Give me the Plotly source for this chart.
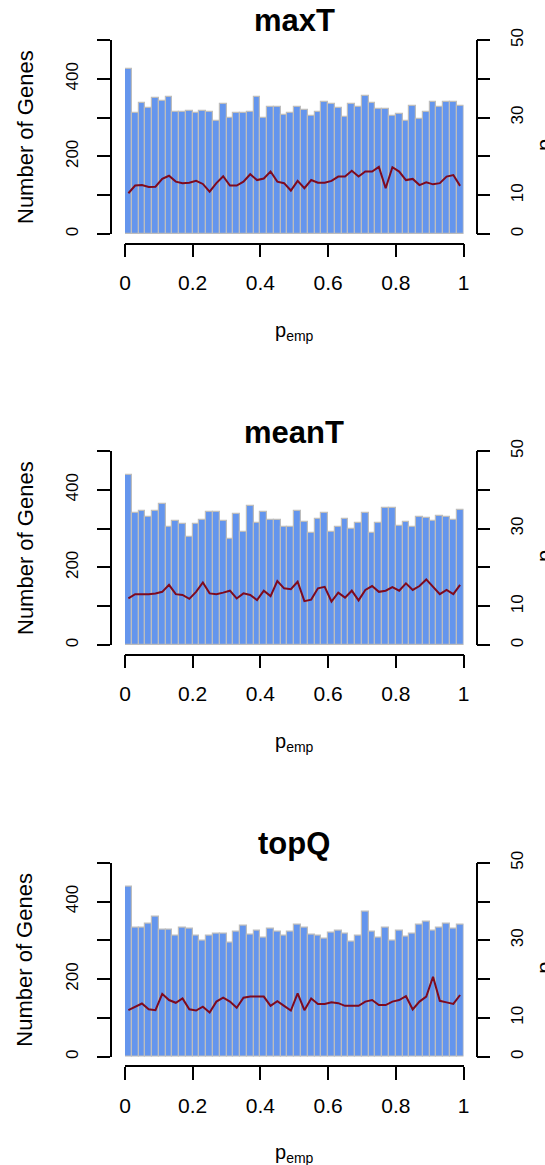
import numpy as np
import plotly.graph_objects as go

# ---------------- data ----------------
bin_edges = np.linspace(0, 1, 51)
x_tick_vals = [0, 0.2, 0.4, 0.6, 0.8, 1]
x_tick_text = ["0", "0.2", "0.4", "0.6", "0.8", "1"]
left_tick_vals = [0, 200, 400]
left_minor_vals = [100, 300, 500]
right_tick_vals = [0, 10, 30, 50]
right_minor_vals = [20, 40]

panel_titles = ["maxT", "meanT", "topQ"]

maxT_counts = [424, 311, 337, 326, 350, 344, 352, 315, 315, 317, 313, 317, 315, 290, 335, 298, 313, 313, 315, 354,
               298, 328, 327, 307, 313, 328, 320, 305, 315, 341, 335, 326, 302, 335, 328, 356, 337, 322, 322, 304,
               309, 292, 330, 296, 315, 339, 328, 341, 341, 330]
maxT_line = [10.5, 12.5, 12.6, 12.1, 12.2, 14.2, 15.0, 13.5, 13.1, 13.2, 13.7, 12.9, 10.9, 13.1, 14.9, 12.5, 12.5,
             13.5, 15.4, 13.9, 14.3, 16.1, 13.5, 13.1, 11.2, 13.7, 11.8, 13.9, 13.2, 13.2, 13.7, 14.8, 14.8, 16.3,
             14.8, 16.1, 16.1, 17.3, 11.8, 17.2, 16.1, 13.9, 14.2, 12.6, 13.3, 12.8, 13.1, 14.8, 15.2, 12.4]

meanT_counts = [438, 339, 345, 331, 346, 363, 305, 320, 312, 278, 312, 322, 342, 344, 320, 272, 337, 290, 357, 314,
                342, 322, 322, 305, 304, 345, 316, 288, 326, 339, 290, 305, 326, 298, 315, 339, 289, 315, 352, 352,
                308, 316, 305, 329, 328, 320, 333, 331, 322, 348]
meanT_line = [12.0, 13.1, 13.1, 13.1, 13.3, 13.7, 15.5, 13.1, 12.9, 11.9, 13.7, 16.1, 13.3, 13.1, 13.5, 14.0, 12.0,
              13.3, 12.9, 11.6, 14.0, 12.6, 16.5, 14.6, 14.4, 16.3, 11.3, 11.7, 14.6, 15.0, 11.2, 13.5, 12.2, 14.0,
              11.5, 14.2, 15.2, 13.7, 14.0, 14.9, 14.0, 15.9, 14.2, 15.2, 16.9, 15.0, 13.1, 14.2, 13.1, 15.5]

topQ_counts = [438, 333, 333, 344, 361, 328, 328, 311, 332, 329, 311, 298, 311, 316, 318, 295, 322, 337, 314, 326,
               308, 329, 322, 311, 322, 339, 333, 314, 311, 305, 320, 324, 316, 296, 311, 374, 322, 308, 333, 299,
               324, 309, 316, 339, 348, 324, 333, 344, 329, 341]
topQ_line = [12.0, 12.9, 13.7, 12.2, 12.0, 16.2, 14.6, 13.9, 15.0, 12.2, 11.9, 12.9, 11.4, 14.2, 15.2, 14.2, 12.6,
             15.2, 15.5, 15.5, 15.5, 13.1, 14.3, 13.1, 11.9, 16.3, 12.0, 15.0, 13.6, 13.6, 14.0, 13.8, 13.1, 13.1,
             13.1, 14.2, 14.6, 13.3, 13.3, 14.2, 14.6, 15.6, 12.2, 14.2, 15.5, 20.6, 14.4, 14.0, 13.6, 15.9]

all_counts = [maxT_counts, meanT_counts, topQ_counts]
all_lines = [maxT_line, meanT_line, topQ_line]

# ---------------- layout helpers ----------------
W, H = 545, 1165
FONT = "Liberation Sans, Arial, Helvetica, sans-serif"


def px(x):
    return x / W


def py(y):
    return 1 - y / H


centers = (bin_edges[:-1] + bin_edges[1:]) / 2
widths = np.diff(bin_edges)

fig = go.Figure()
layout = dict(
    template="none",
    width=W, height=H, autosize=False,
    margin=dict(l=0, r=0, t=0, b=0, pad=0),
    paper_bgcolor="white", plot_bgcolor="white",
    showlegend=False, bargap=0,
    font=dict(family=FONT, color="black"),
    annotations=[],
)

offsets = [0, 411, 822.7]
axis_common = dict(showgrid=False, zeroline=False, showline=True, linecolor="black", automargin=False,
                   linewidth=1.5, ticks="outside", ticklen=13, tickwidth=1.5, tickcolor="black")
minor_common = dict(ticks="outside", ticklen=13, tickwidth=1.5, tickcolor="black", showgrid=False)

for i, (title, counts, line, off) in enumerate(zip(panel_titles, all_counts, all_lines, offsets)):
    xa = "x" if i == 0 else f"x{i + 1}"
    yl = "y" if i == 0 else f"y{2 * i + 1}"
    yr = f"y{2 * i + 2}"
    ydom = [py(234 + off), py(40 + off)]

    fig.add_trace(go.Bar(x=centers, y=counts, width=widths, xaxis=xa, yaxis=yl,
                         marker=dict(color="#6495ED", line=dict(color="#BDBDBD", width=1.2)),
                         hoverinfo="x+y"))
    fig.add_trace(go.Scatter(x=centers, y=line, xaxis=xa, yaxis=yr, mode="lines",
                             line=dict(color="#7F0A1E", width=2)))

    xkey = "xaxis" if i == 0 else f"xaxis{i + 1}"
    ylkey = "yaxis" if i == 0 else f"yaxis{2 * i + 1}"
    yrkey = f"yaxis{2 * i + 2}"

    layout[xkey] = dict(axis_common, domain=[px(125), px(463.5)], range=[0, 1],
                        anchor="free", position=py(243.5 + off),
                        tickvals=x_tick_vals, ticktext=x_tick_text,
                        tickfont=dict(size=21, family=FONT), ticklabelstandoff=8)
    layout[ylkey] = dict(axis_common, domain=ydom, range=[0, 500],
                         anchor="free", position=px(111),
                         tickvals=left_tick_vals, ticktext=[str(v) for v in left_tick_vals], tickangle=-90,
                         minor=dict(minor_common, tickvals=left_minor_vals),
                         tickfont=dict(size=17, family=FONT), ticklabelstandoff=12)
    layout[yrkey] = dict(axis_common, domain=ydom, range=[0, 50],
                         anchor="free", position=px(476.7), side="right", overlaying=yl,
                         tickvals=right_tick_vals, ticktext=[str(v) for v in right_tick_vals], tickangle=-90,
                         minor=dict(minor_common, tickvals=right_minor_vals),
                         tickfont=dict(size=17, family=FONT), ticklabelstandoff=12)

    layout["annotations"] += [
        dict(text=f"<b>{title}</b>", x=px(294), y=py(21 + off), xref="paper", yref="paper",
             xanchor="center", yanchor="middle", showarrow=False, font=dict(size=31, family=FONT)),
        dict(text="Number of Genes", x=px(25), y=py(137 + off), xref="paper", yref="paper",
             xanchor="center", yanchor="middle", textangle=-90, showarrow=False,
             font=dict(size=22, family=FONT)),
        dict(text="p<sub>emp</sub>", x=px(294), y=py(331 + off), xref="paper", yref="paper",
             xanchor="center", yanchor="middle", showarrow=False, font=dict(size=20, family=FONT)),
        dict(text="p<sub>emp</sub>", x=px(530), y=py(130 + off), xref="paper", yref="paper",
             xanchor="left", yanchor="middle", textangle=-90, showarrow=False,
             font=dict(size=22, family=FONT)),
    ]

fig.update_layout(**layout)
fig.write_html(
    "out.html",
    config={"displayModeBar": False},
    post_script="document.body.style.margin='0';document.body.style.overflow='hidden';",
)
